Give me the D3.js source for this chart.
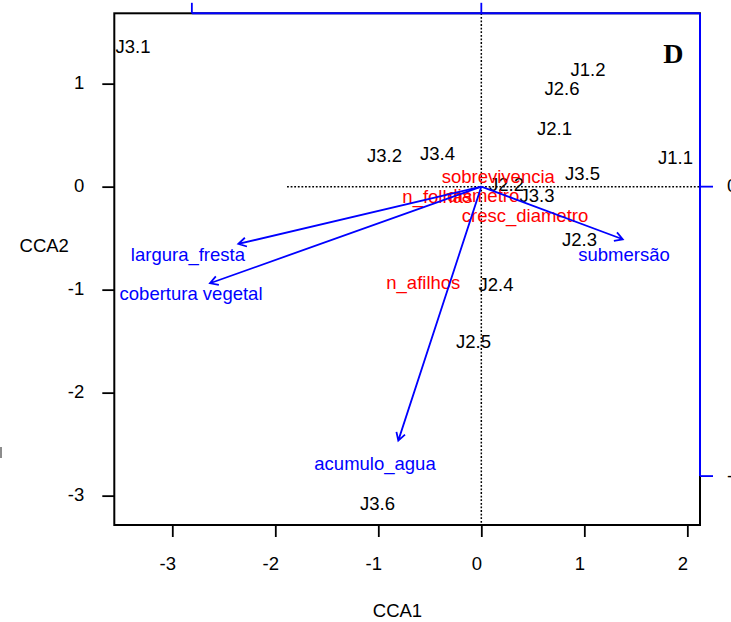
<!DOCTYPE html>
<html>
<head>
<meta charset="utf-8">
<script src="https://cdn.jsdelivr.net/npm/d3@7"></script>
<style>
  html, body { margin: 0; padding: 0; background: #fff; }
  svg { display: block; }
  text { font-family: "Liberation Sans", Arial, Helvetica, sans-serif; }
</style>
</head>
<body>
<svg id="chart" width="731" height="622"></svg>
<script>
// Site scores (CCA1, CCA2)
const sites = ["J3.1", "J1.2", "J2.6", "J2.1", "J1.1", "J3.5", "J3.2", "J3.4", "J2.2", "J3.3", "J2.3", "J2.4", "J2.5", "J3.6"];
const siteCCA1 = [-3.382, 1.036, 0.783, 0.711, 1.885, 0.983, -0.940, -0.425, 0.245, 0.541, 0.953, 0.143, -0.076, -1.008];
const siteCCA2 = [1.359, 1.143, 0.958, 0.570, 0.288, 0.133, 0.308, 0.327, 0.021, -0.081, -0.508, -0.945, -1.503, -3.071];

// Response variable scores
const species = ["sobrevivencia", "n_folhas", "diametro", "cresc_diametro", "n_afilhos"];
const speciesCCA1 = [0.165, -0.427, 0.019, 0.424, -0.563];
const speciesCCA2 = [0.097, -0.090, -0.085, -0.280, -0.925];

// Environmental biplot arrows (tips, in plot units) and their label positions
const envVars = ["largura_fresta", "cobertura vegetal", "submersão", "acumulo_agua"];
const envCCA1 = [-2.359, -2.634, 1.373, -0.806];
const envCCA2 = [-0.556, -0.938, -0.511, -2.466];
const envLabelCCA1 = [-2.848, -2.818, 1.385, -1.032];
const envLabelCCA2 = [-0.658, -1.037, -0.653, -2.687];

// Arrow axis multiplier and tick values
const arrowMul = 2.81;
const arrowTicks = [-1, 0];
const xTicks = [-3, -2, -1, 0, 1, 2];
const yTicks = [-3, -2, -1, 0, 1];
const panelLetter = "D";

const svg = d3.select("#chart");
const FS = 18.5;
const BLUE = "#0000ff", RED = "#ff0000";
const fmt = d => String(d);   // plain hyphen-minus, as in base graphics

const pL = 114.3, pR = 700, pT = 13.3, pB = 525;
const x = d3.scaleLinear().domain([-3.563, 2.123]).range([pL, pR]);
const y = d3.scaleLinear().domain([-3.285, 1.683]).range([pB, pT]);

// secondary scales for the biplot arrows
const xa = d3.scaleLinear().domain(x.domain().map(v => v / arrowMul)).range(x.range());
const ya = d3.scaleLinear().domain(y.domain().map(v => v / arrowMul)).range(y.range());

// origin cross-hairs
svg.append("line")
  .attr("x1", x(-1.886)).attr("x2", pR)
  .attr("y1", y(0)).attr("y2", y(0))
  .attr("stroke", "#000").attr("stroke-width", 1.5).attr("stroke-dasharray", "1.8,1.8");
svg.append("line")
  .attr("x1", x(0)).attr("x2", x(0))
  .attr("y1", pT).attr("y2", pB)
  .attr("stroke", "#000").attr("stroke-width", 1.5).attr("stroke-dasharray", "1.8,1.8");

// plot frame
svg.append("rect")
  .attr("x", pL).attr("y", pT)
  .attr("width", pR - pL).attr("height", pB - pT)
  .attr("fill", "none").attr("stroke", "#000").attr("stroke-width", 2);

// bottom axis
const gx = svg.append("g")
  .attr("transform", `translate(0,${pB})`)
  .call(d3.axisBottom(x).tickValues(xTicks).tickSize(12).tickPadding(20).tickFormat(fmt));
gx.select(".domain").remove();
gx.selectAll(".tick line").attr("stroke", "#000").attr("stroke-width", 1.8);
gx.selectAll(".tick text")
  .attr("fill", "#000").attr("dx", -5)
  .style("font-size", FS + "px")
  .style("font-family", '"Liberation Sans", Arial, sans-serif');

// left axis
const gy = svg.append("g")
  .attr("transform", `translate(${pL},0)`)
  .call(d3.axisLeft(y).tickValues(yTicks).tickSize(12).tickPadding(18).tickFormat(fmt));
gy.select(".domain").remove();
gy.selectAll(".tick line").attr("stroke", "#000").attr("stroke-width", 1.8);
gy.selectAll(".tick text")
  .attr("fill", "#000").attr("dy", "0.24em")
  .style("font-size", FS + "px")
  .style("font-family", '"Liberation Sans", Arial, sans-serif');

// arrow-scale axes (top and right) in blue
const topStart = xa(d3.min(arrowTicks));
svg.append("line")
  .attr("x1", topStart).attr("x2", pR)
  .attr("y1", pT).attr("y2", pT)
  .attr("stroke", BLUE).attr("stroke-width", 2);
svg.selectAll("line.topTick").data(arrowTicks).join("line")
  .attr("class", "topTick")
  .attr("x1", d => xa(d)).attr("x2", d => xa(d))
  .attr("y1", pT).attr("y2", pT - 10.5)
  .attr("stroke", BLUE).attr("stroke-width", 1.8);

const rightEnd = ya(d3.min(arrowTicks));
svg.append("line")
  .attr("x1", pR).attr("x2", pR)
  .attr("y1", pT).attr("y2", rightEnd)
  .attr("stroke", BLUE).attr("stroke-width", 2);
svg.selectAll("line.rightTick").data(arrowTicks).join("line")
  .attr("class", "rightTick")
  .attr("x1", pR).attr("x2", pR + 13)
  .attr("y1", d => ya(d)).attr("y2", d => ya(d))
  .attr("stroke", BLUE).attr("stroke-width", 1.8);
svg.selectAll("text.rightLab").data(arrowTicks).join("text")
  .attr("class", "rightLab")
  .attr("x", pR + 27).attr("y", d => ya(d)).attr("dy", "0.3em")
  .attr("text-anchor", "start")
  .style("font-size", FS + "px").attr("fill", "#000")
  .text(fmt);

// axis titles
svg.append("text")
  .attr("x", 397.5).attr("y", 616.5)
  .attr("text-anchor", "middle").style("font-size", FS + "px")
  .text("CCA1");
svg.append("text")
  .attr("x", 44.2).attr("y", 252.3)
  .attr("text-anchor", "middle").style("font-size", FS + "px")
  .text("CCA2");

// stray mark at the left margin
svg.append("line")
  .attr("x1", 1).attr("x2", 1).attr("y1", 447).attr("y2", 458)
  .attr("stroke", "#666").attr("stroke-width", 1.5);

// site labels
svg.selectAll("text.site").data(sites).join("text")
  .attr("class", "site")
  .attr("x", (d, i) => x(siteCCA1[i]))
  .attr("y", (d, i) => y(siteCCA2[i]))
  .attr("dy", "0.36em")
  .attr("text-anchor", "middle")
  .style("font-size", FS + "px").attr("fill", "#000")
  .text(d => d);

// response variable labels
svg.selectAll("text.sp").data(species).join("text")
  .attr("class", "sp")
  .attr("x", (d, i) => x(speciesCCA1[i]))
  .attr("y", (d, i) => y(speciesCCA2[i]))
  .attr("dy", "0.36em")
  .attr("text-anchor", "middle")
  .style("font-size", FS + "px").attr("fill", RED)
  .text(d => d);

// biplot arrows
const ox = x(0), oy = y(0);
const headLen = 9, headAng = Math.PI / 6;
const arrows = svg.append("g");
envVars.forEach((name, i) => {
  const tx = x(envCCA1[i]), ty = y(envCCA2[i]);
  const ang = Math.atan2(ty - oy, tx - ox);
  const p = d3.path();
  p.moveTo(ox, oy);
  p.lineTo(tx, ty);
  p.moveTo(tx - headLen * Math.cos(ang - headAng), ty - headLen * Math.sin(ang - headAng));
  p.lineTo(tx, ty);
  p.lineTo(tx - headLen * Math.cos(ang + headAng), ty - headLen * Math.sin(ang + headAng));
  arrows.append("path")
    .attr("d", p.toString())
    .attr("fill", "none").attr("stroke", BLUE).attr("stroke-width", 1.8);
});

svg.selectAll("text.env").data(envVars).join("text")
  .attr("class", "env")
  .attr("x", (d, i) => x(envLabelCCA1[i]))
  .attr("y", (d, i) => y(envLabelCCA2[i]))
  .attr("dy", "0.36em")
  .attr("text-anchor", "middle")
  .style("font-size", FS + "px").attr("fill", BLUE)
  .text(d => d);

// panel letter
svg.append("text")
  .attr("x", 673.3).attr("y", 62.7)
  .attr("text-anchor", "middle")
  .style("font-family", '"Liberation Serif", "Times New Roman", serif')
  .style("font-weight", "bold").style("font-size", "28px")
  .text(panelLetter);
</script>
</body>
</html>
